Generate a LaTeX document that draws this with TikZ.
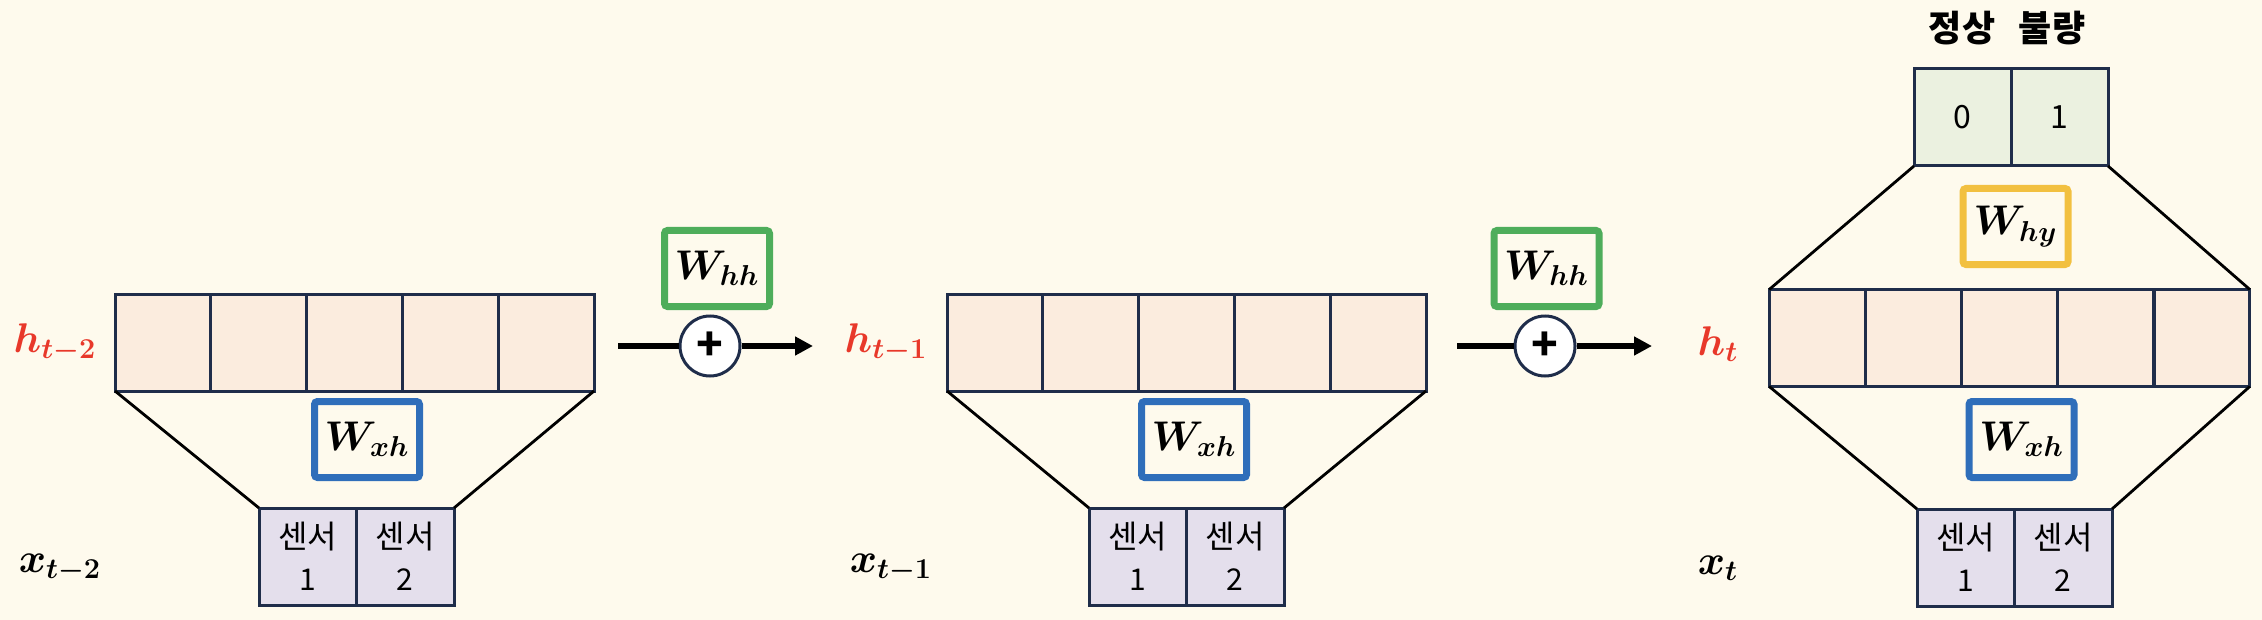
\documentclass[tikz,border=0pt]{standalone}
\usepackage{fontspec}
\usepackage{bm}
\newfontfamily\kr{Noto Sans CJK KR}
\usetikzlibrary{arrows.meta}
\definecolor{bg}{RGB}{254,250,237}
\definecolor{cellh}{RGB}{251,236,222}
\definecolor{navy}{RGB}{31,45,74}
\definecolor{cellx}{RGB}{228,223,236}
\definecolor{celly}{RGB}{235,241,224}
\definecolor{wblue}{RGB}{47,110,186}
\definecolor{wgreen}{RGB}{78,173,91}
\definecolor{wyellow}{RGB}{242,192,64}
\definecolor{hred}{RGB}{232,56,42}
\begin{document}
\begin{tikzpicture}[x=0.5pt,y=-0.5pt,
  hcell/.style={draw=navy, fill=cellh, line width=1.5pt, minimum width=47.9pt, minimum height=48.5pt, inner sep=0pt, outer sep=0pt},
  xcell/.style={draw=navy, fill=cellx, line width=1.5pt, minimum width=48.75pt, minimum height=48.5pt, inner sep=0pt, outer sep=0pt, align=center, font=\kr\fontsize{16}{21}\selectfont},
  ycell/.style={draw=navy, fill=celly, line width=1.5pt, minimum width=48.5pt, minimum height=48.5pt, inner sep=0pt, outer sep=0pt, font=\kr\fontsize{16}{18}\selectfont},
  wbox/.style={line width=3.5pt, rounded corners=1.5pt, minimum width=52.5pt, minimum height=38pt, inner sep=0pt, font=\fontsize{20}{24}\selectfont},
  lab/.style={inner sep=0pt, font=\fontsize{21}{25}\selectfont},
  plusnode/.style={circle, draw=navy, fill=white, line width=1.5pt, minimum size=30pt, inner sep=0pt, font=\kr\bfseries\fontsize{22}{22}\selectfont},
  trap/.style={draw=black, line width=1.4pt},
  flow/.style={draw=black, line width=2.6pt},
  head/.style={inner sep=0pt, font=\kr\bfseries\fontsize{18}{20}\selectfont}
]
\fill[bg] (0,0) rectangle (2262,620);
\useasboundingbox (0,0) rectangle (2262,620);

% hidden state vectors
\foreach \i in {1,...,5} {
  \node[hcell] (ha\i) at ({115+95.8*(\i-0.5)},342.5) {};
  \node[hcell] (hb\i) at ({947+95.8*(\i-0.5)},342.5) {};
  \node[hcell] (hc\i) at ({1769+96.2*(\i-0.5)},338) {};
}

% sensor inputs
\node[xcell] (sa1) at (307.75,556.5) {센서\\{\fontsize{15}{21}\selectfont 1}};
\node[xcell] (sa2) at (405.25,556.5) {센서\\{\fontsize{15}{21}\selectfont 2}};
\node[xcell] (sb1) at (1137.75,556.5) {센서\\{\fontsize{15}{21}\selectfont 1}};
\node[xcell] (sb2) at (1235.25,556.5) {센서\\{\fontsize{15}{21}\selectfont 2}};
\node[xcell] (sc1) at (1965.75,557.5) {센서\\{\fontsize{15}{21}\selectfont 1}};
\node[xcell] (sc2) at (2063.25,557.5) {센서\\{\fontsize{15}{21}\selectfont 2}};

% output
\node[ycell] (o1) at (1962.5,117.5) {0};
\node[ycell] (o2) at (2059.5,117.5) {1};
\node[head] (hd1) at (1962,28) {정상};
\node[head] (hd2) at (2052,28) {불량};

% weight boxes
\node[wbox, draw=wblue] (wxa) at (367,439.5) {$\bm{W_{xh}}$};
\node[wbox, draw=wblue] (wxb) at (1194,439.5) {$\bm{W_{xh}}$};
\node[wbox, draw=wblue] (wxc) at (2021.5,439.5) {$\bm{W_{xh}}$};
\node[wbox, draw=wgreen] (wha) at (717,268.5) {$\bm{W_{hh}}$};
\node[wbox, draw=wgreen] (whb) at (1546.5,268.5) {$\bm{W_{hh}}$};
\node[wbox, draw=wyellow] (why) at (2015.5,226.5) {$\bm{W_{hy}}$};

% labels
\node[lab, text=hred] (lha) at (55,343) {$\bm{h_{t-2}}$};
\node[lab, text=hred] (lhb) at (886,343) {$\bm{h_{t-1}}$};
\node[lab, text=hred] (lhc) at (1718,344) {$\bm{h_{t}}$};
\node[lab] (lxa) at (60,568) {$\bm{x_{t-2}}$};
\node[lab] (lxb) at (891,568) {$\bm{x_{t-1}}$};
\node[lab] (lxc) at (1718,568) {$\bm{x_{t}}$};

% trapezoid connectors
\draw[trap] (ha1.south west) -- (sa1.north west);
\draw[trap] (ha5.south east) -- (sa2.north east);
\draw[trap] (hb1.south west) -- (sb1.north west);
\draw[trap] (hb5.south east) -- (sb2.north east);
\draw[trap] (hc1.south west) -- (sc1.north west);
\draw[trap] (hc5.south east) -- (sc2.north east);
\draw[trap] (o1.south west) -- (hc1.north west);
\draw[trap] (o2.south east) -- (hc5.north east);

% recurrent flow
\coordinate (a1s) at (618,346);
\coordinate (a1e) at (813,346);
\coordinate (a2s) at (1457,346);
\coordinate (a2e) at (1652,346);
\node[plusnode] (pa) at (710,346) {+};
\node[plusnode] (pb) at (1545,346) {+};
\draw[flow] (a1s) -- (pa);
\draw[flow, -{Triangle[length=9pt,width=9pt]}] (pa) -- (a1e);
\draw[flow] (a2s) -- (pb);
\draw[flow, -{Triangle[length=9pt,width=9pt]}] (pb) -- (a2e);
\end{tikzpicture}
\end{document}
